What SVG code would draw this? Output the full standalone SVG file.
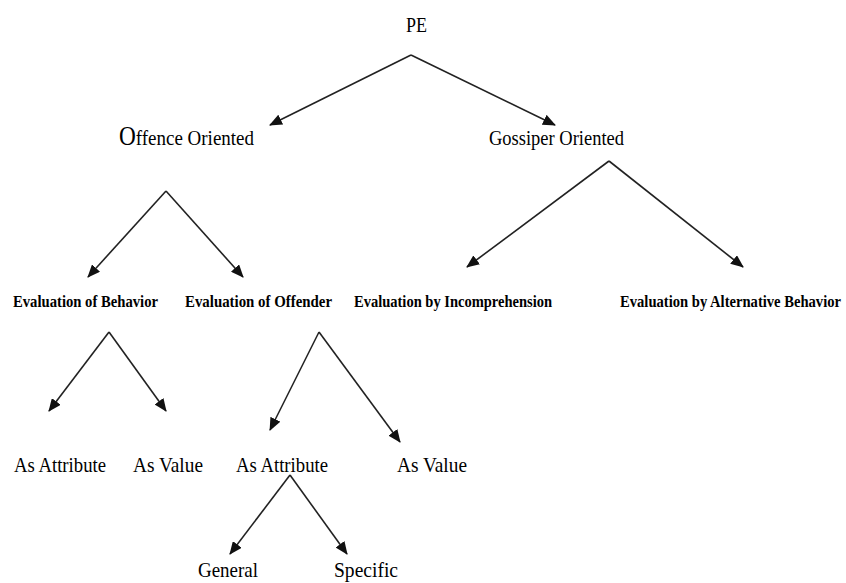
<svg xmlns="http://www.w3.org/2000/svg" width="846" height="583" viewBox="0 0 846 583">
<defs>
<marker id="ah" markerUnits="userSpaceOnUse" markerWidth="13" markerHeight="11" refX="12" refY="5.5" orient="auto">
<path d="M0,0 L13,5.5 L0,11 z" fill="#111"/>
</marker>
<style>
.t{font-family:"Liberation Serif","Times New Roman",serif;fill:#000;}
.n{font-size:22px;}
.b{font-size:17px;font-weight:bold;}
.e{stroke:#222;stroke-width:1.6;fill:none;marker-end:url(#ah);}
</style>
</defs>
<rect width="846" height="583" fill="#fff"/>
<g id="connectors">
<path class="e" d="M411,55 L270,125"/>
<path class="e" d="M411,55 L555,125"/>
<path class="e" d="M166,191 L88,277"/>
<path class="e" d="M166,191 L243,277"/>
<path class="e" d="M609,161 L467,267"/>
<path class="e" d="M609,161 L743,267"/>
<path class="e" d="M109,332 L49,411"/>
<path class="e" d="M109,332 L166,411"/>
<path class="e" d="M319,332 L270,430"/>
<path class="e" d="M319,332 L400,442"/>
<path class="e" d="M290,475 L230,554"/>
<path class="e" d="M290,475 L347,554"/>
</g>
<g id="pe"><text class="t n" x="406" y="32" textLength="21" lengthAdjust="spacingAndGlyphs">PE</text></g>
<g id="offence"><text class="t" x="119" y="145" font-size="22" textLength="135" lengthAdjust="spacingAndGlyphs"><tspan font-size="27">O</tspan>ffence Oriented</text></g>
<g id="gossiper"><text class="t n" x="489" y="145" textLength="135" lengthAdjust="spacingAndGlyphs">Gossiper Oriented</text></g>
<g id="evalBehavior"><text class="t b" x="13" y="307" textLength="145" lengthAdjust="spacingAndGlyphs">Evaluation of Behavior</text></g>
<g id="evalOffender"><text class="t b" x="185" y="307" textLength="147" lengthAdjust="spacingAndGlyphs">Evaluation of Offender</text></g>
<g id="evalIncomp"><text class="t b" x="354" y="307" textLength="198" lengthAdjust="spacingAndGlyphs">Evaluation by Incomprehension</text></g>
<g id="evalAlt"><text class="t b" x="620" y="307" textLength="221" lengthAdjust="spacingAndGlyphs">Evaluation by Alternative Behavior</text></g>
<g id="attr1"><text class="t n" x="14" y="472" textLength="92" lengthAdjust="spacingAndGlyphs">As Attribute</text></g>
<g id="value1"><text class="t n" x="133" y="472" textLength="70" lengthAdjust="spacingAndGlyphs">As Value</text></g>
<g id="attr2"><text class="t n" x="236" y="472" textLength="92" lengthAdjust="spacingAndGlyphs">As Attribute</text></g>
<g id="value2"><text class="t n" x="397" y="472" textLength="70" lengthAdjust="spacingAndGlyphs">As Value</text></g>
<g id="general"><text class="t n" x="198" y="577" textLength="60" lengthAdjust="spacingAndGlyphs">General</text></g>
<g id="specific"><text class="t n" x="334" y="577" textLength="64" lengthAdjust="spacingAndGlyphs">Specific</text></g>
</svg>
